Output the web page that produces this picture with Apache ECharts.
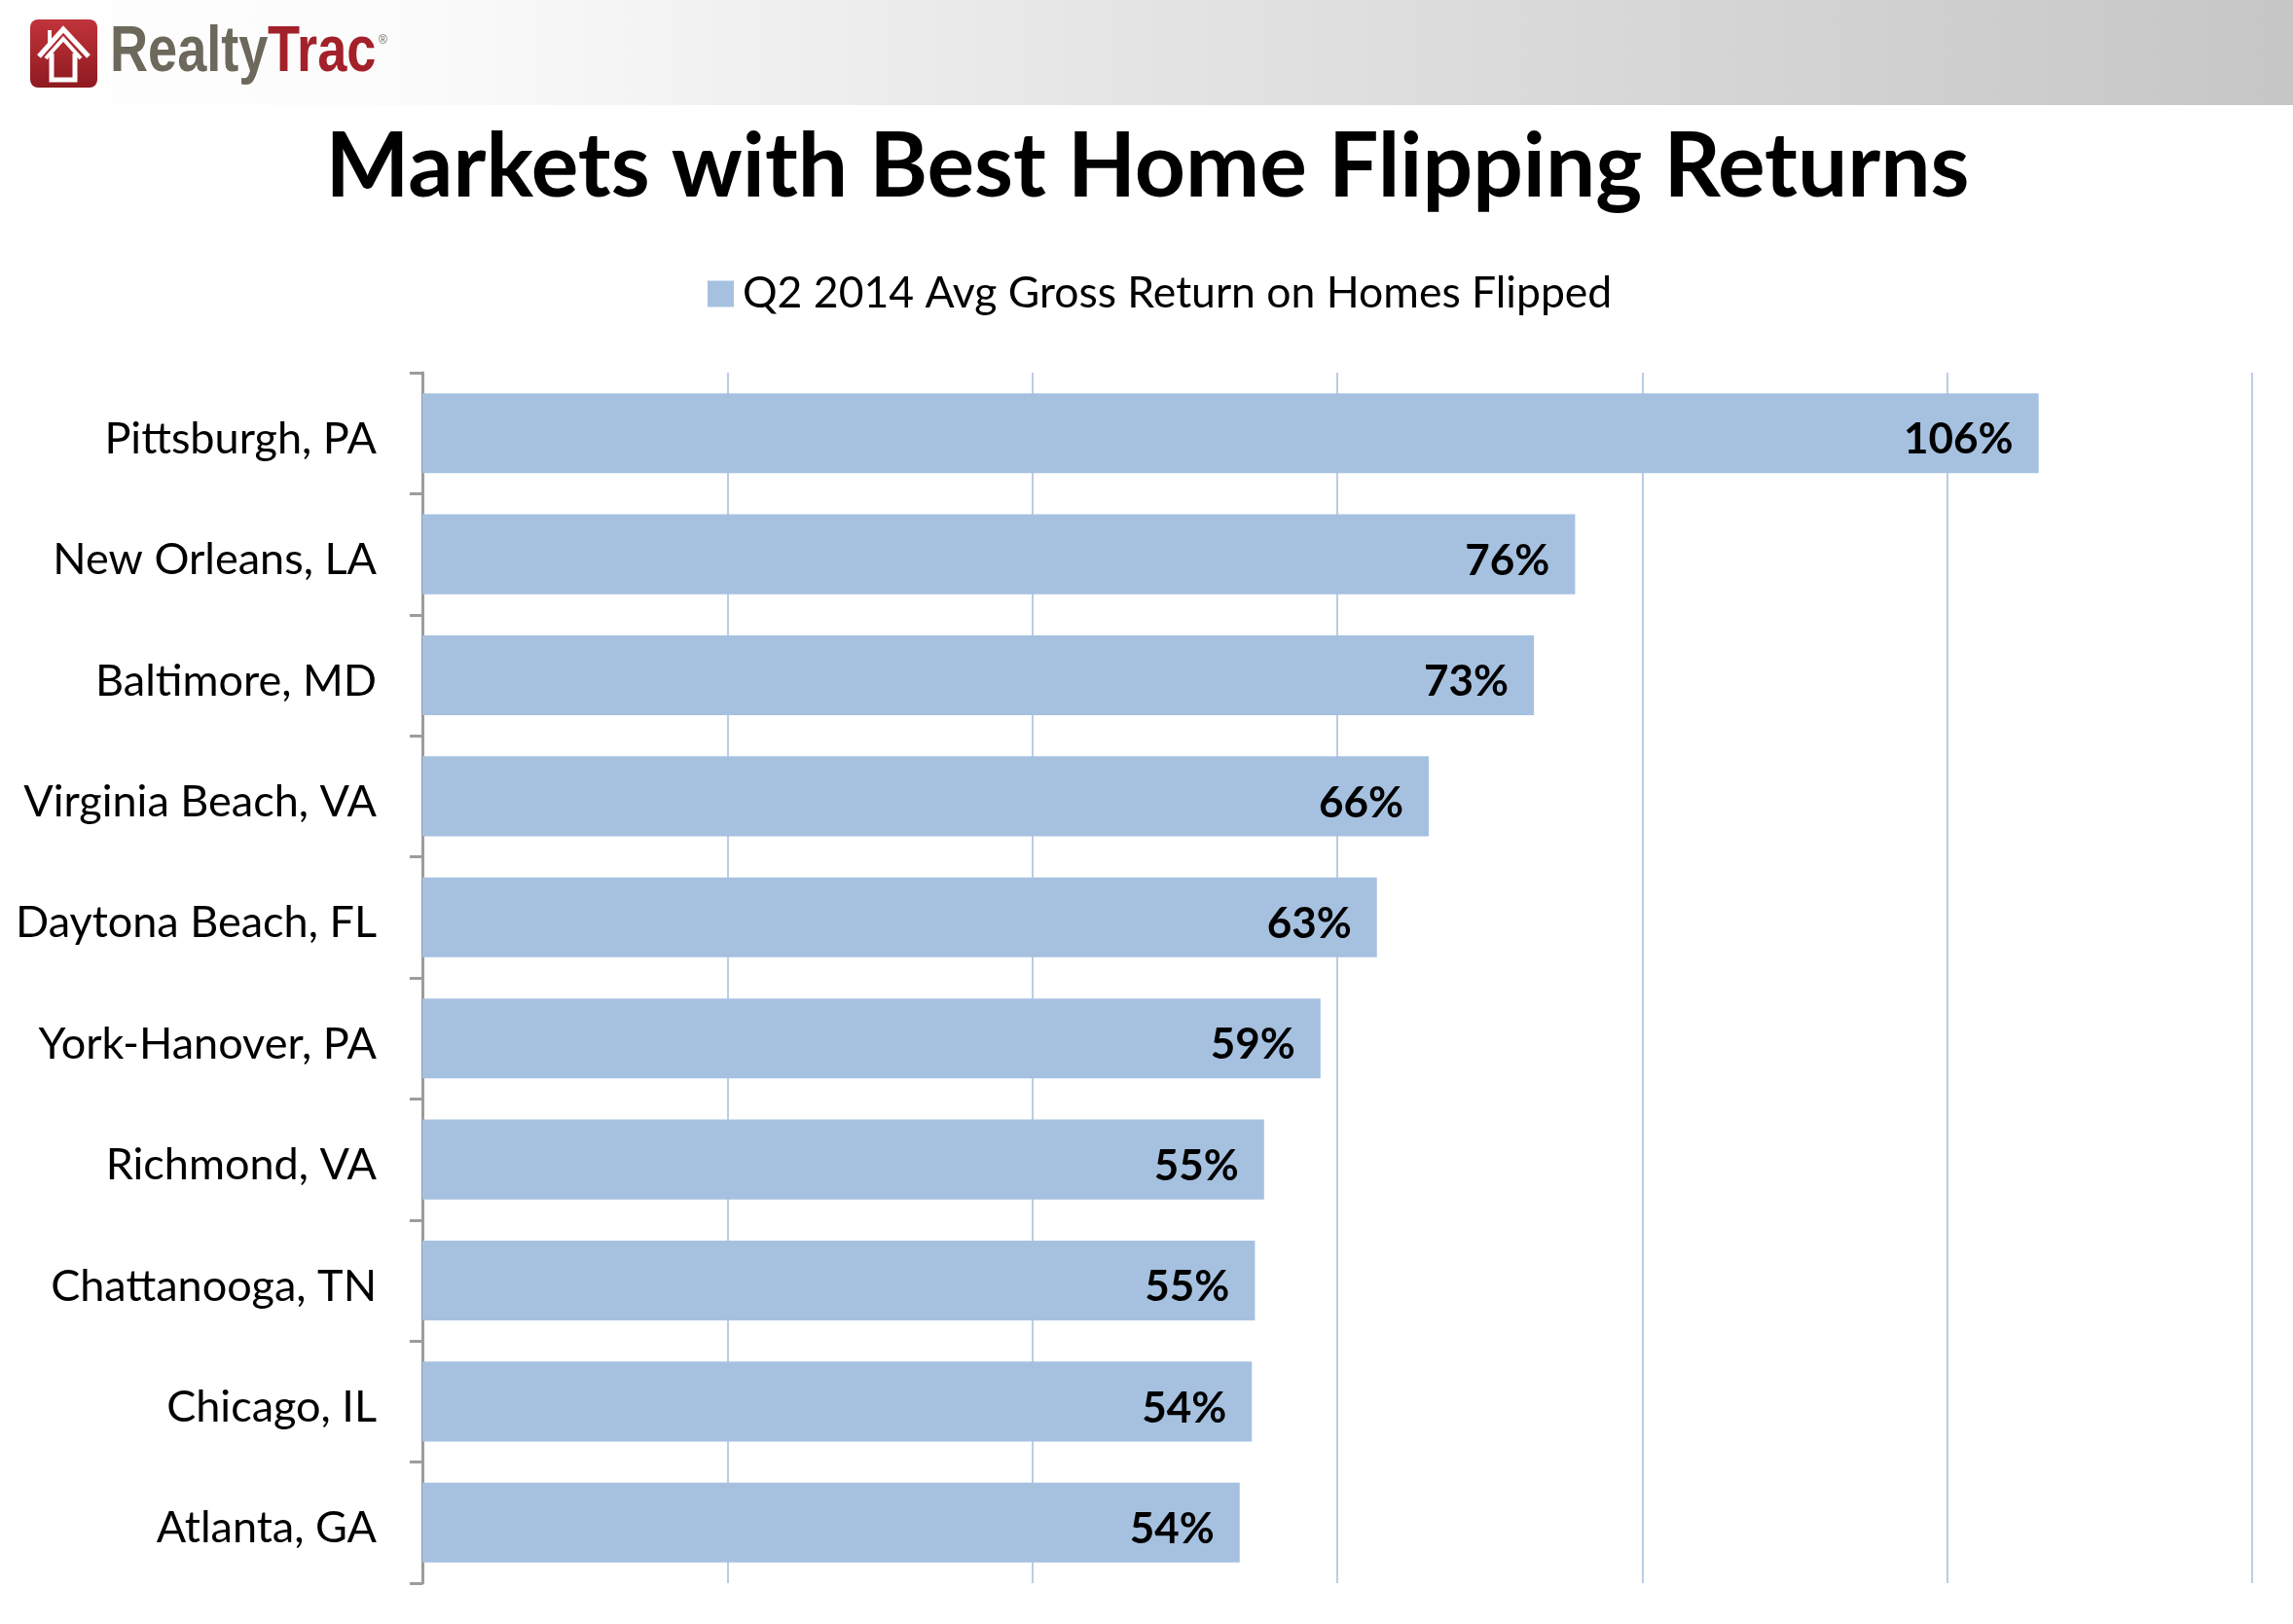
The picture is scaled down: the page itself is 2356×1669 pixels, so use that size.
<!DOCTYPE html>
<html>
<head>
<meta charset="utf-8">
<script src="https://cdn.jsdelivr.net/npm/echarts@6/dist/echarts.min.js"></script>
<style>
html,body{margin:0;padding:0;background:#fff;}
#chart{width:2356px;height:1669px;}
</style>
</head>
<body>
<div id="chart"></div>
<script>
var categories = ['Pittsburgh, PA','New Orleans, LA','Baltimore, MD','Virginia Beach, VA','Daytona Beach, FL','York-Hanover, PA','Richmond, VA','Chattanooga, TN','Chicago, IL','Atlanta, GA'];
var returns = [106.0, 75.6, 72.9, 66.0, 62.6, 58.9, 55.2, 54.6, 54.4, 53.6];
var valueLabels = ['106%','76%','73%','66%','63%','59%','55%','55%','54%','54%'];
var seriesName = 'Q2 2014 Avg Gross Return on Homes Flipped';
var chartTitle = 'Markets with Best Home Flipping Returns';

var chart = echarts.init(document.getElementById('chart'), null, {renderer:'canvas'});
var option = {
  backgroundColor: '#ffffff',
  animation: false,
  graphic: [
    {type:'rect', left:0, top:0, shape:{width:2356, height:108},
     style:{fill:new echarts.graphic.LinearGradient(0,0,1,0,[
       {offset:0,color:'#ffffff'},{offset:0.18,color:'#fbfbfb'},{offset:0.5,color:'#e4e4e4'},{offset:1,color:'#c6c6c6'}])}},
    {type:'rect', shape:{x:31, y:20, width:69, height:70, r:8},
     style:{fill:new echarts.graphic.LinearGradient(0,0,0,1,[{offset:0,color:'#c0343a'},{offset:1,color:'#8e1a20'}])}},
    {type:'polyline', shape:{points:[[40,58],[65,30],[91,58]]}, style:{stroke:'#fff', lineWidth:5, fill:null}},
    {type:'polyline', shape:{points:[[51,44],[51,31]]}, style:{stroke:'#fff', lineWidth:4, fill:null}},
    {type:'polyline', shape:{points:[[47,60],[65,40],[83,60]]}, style:{stroke:'#fff', lineWidth:4, fill:null}},
    {type:'polyline', shape:{points:[[53,55],[53,82],[77,82],[77,55]]}, style:{stroke:'#fff', lineWidth:5, fill:null}},
    {type:'text', x:113, y:55, scaleX:0.82, style:{text:'Realty', fill:'#6d685c', font:'bold 66px "Liberation Sans", Arial, sans-serif', textVerticalAlign:'middle'}},
    {type:'text', x:275, y:55, scaleX:0.82, style:{text:'Trac', fill:'#a3212a', font:'bold 66px "Liberation Sans", Arial, sans-serif', textVerticalAlign:'middle'}},
    {type:'text', x:389, y:36, style:{text:'®', fill:'#6d685c', font:'12px "Liberation Sans", Arial, sans-serif'}},
    {type:'text', x:1179, y:173, style:{text:chartTitle, fill:'#000', font:'bold 91px Lato, sans-serif', textAlign:'center', textVerticalAlign:'middle'}}
  ],
  legend: {
    data:[seriesName], left:722, top:272, itemWidth:27, itemHeight:27, icon:'rect',
    textStyle:{fontFamily:'Lato', fontSize:44.5, color:'#000', lineHeight:44, padding:[6,0,0,4]}
  },
  grid: {left:434, right:42, top:383, bottom:42, containLabel:false},
  xAxis: {
    type:'value', min:0, max:120, interval:20,
    axisLabel:{show:false}, axisLine:{show:false}, axisTick:{show:false},
    splitLine:{show:true, lineStyle:{color:'#b9cde6', width:2}}
  },
  yAxis: {
    type:'category', data:categories, inverse:true,
    axisLine:{show:true, lineStyle:{color:'#9c9c9c', width:3}},
    axisTick:{show:true, length:13, lineStyle:{color:'#9c9c9c', width:3}},
    axisLabel:{fontFamily:'Lato', fontSize:45, color:'#000', margin:47, verticalAlign:'top', lineHeight:12}
  },
  series: [{
    name:seriesName, type:'bar', data:returns, barCategoryGap:'34%',
    itemStyle:{color:'#a6c1e0'},
    label:{show:true, position:'insideRight', distance:26, fontFamily:'Lato', fontWeight:'bold', fontSize:44, color:'#000',
      offset:[0,7],
      formatter:function(p){return valueLabels[p.dataIndex];}}
  }]
};
chart.setOption(option);
</script>
</body>
</html>
